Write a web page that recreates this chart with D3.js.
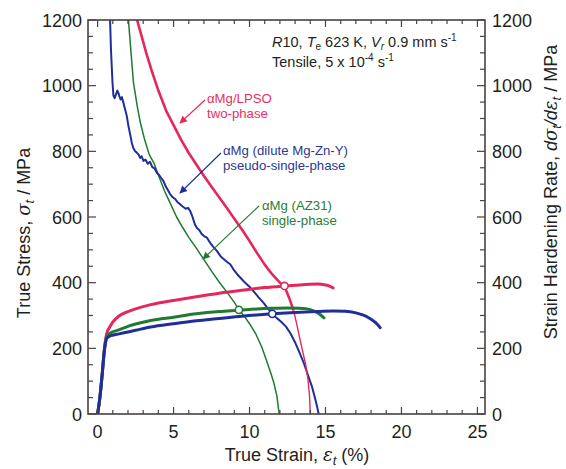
<!DOCTYPE html>
<html>
<head>
<meta charset="utf-8">
<script src="https://cdn.jsdelivr.net/npm/d3@7"></script>
<style>
  html, body { margin: 0; padding: 0; background: #fff; }
  svg { display: block; font-family: Arial, "Liberation Sans", Helvetica, sans-serif; }
</style>
</head>
<body>
<svg id="chart" width="566" height="469"></svg>
<script>
// ---------------- DATA ----------------
const xTicks = [0, 5, 10, 15, 20, 25];
const yTicks = [0, 200, 400, 600, 800, 1000, 1200];

// True stress-strain curves [strain %, stress MPa]
const flowLPSO = [[0,0],[0.15,50],[0.3,120],[0.45,200],[0.6,245],[0.8,265],[1.0,280],[1.4,298],[2.0,312],[2.5,320],[3.5,333],[5.0,346],[6.5,357],[8,368],[9.5,377],[11,385],[12.3,390],[13.5,394],[14.5,396],[15.0,393],[15.3,389],[15.5,384]];
const flowDilute = [[0,0],[0.15,50],[0.3,120],[0.45,195],[0.6,230],[0.8,237],[1.0,240],[1.4,244],[2.0,250],[2.5,255],[3.5,265],[5.0,275],[6.5,284],[8,291],[9.5,298],[11.5,305],[13,309],[14.5,312],[15.5,314],[16.3,313],[17,308],[17.5,301],[17.95,290],[18.3,278],[18.6,263]];
const flowAZ31 = [[0,0],[0.15,50],[0.3,120],[0.45,195],[0.6,235],[0.8,245],[1.0,250],[1.4,256],[2.0,267],[2.5,274],[3.5,285],[5.0,295],[6.5,305],[8,312],[9.3,316],[10.5,320],[11.5,322],[12.5,323],[13.3,322],[14.0,318],[14.5,308],[14.9,293]];

// Strain hardening rate curves [strain %, dσ/dε MPa]
const hardLPSO = [[2.6,1200],[2.9,1150],[3.2,1100],[3.6,1040],[4.0,985],[4.5,925],[5.0,880],[5.5,835],[6.0,795],[6.5,760],[7.0,725],[7.5,692],[8.0,660],[8.5,628],[9.0,595],[9.5,562],[10.0,527],[10.5,490],[11.0,455],[11.5,425],[12.0,400],[12.3,388],[12.6,355],[12.9,315],[13.1,275],[13.3,232],[13.5,190],[13.7,150],[13.85,105],[13.95,55],[14.0,0]];
const hardDilute = [[0.82,1200],[0.88,1110],[0.93,1060],[0.98,1010],[1.04,970],[1.12,962],[1.22,975],[1.3,985],[1.37,978],[1.45,965],[1.52,958],[1.6,965],[1.7,948],[1.8,930],[1.92,908],[2.03,877],[2.15,850],[2.25,826],[2.35,810],[2.47,800],[2.58,796],[2.7,790],[2.8,780],[2.9,785],[3.02,771],[3.15,775],[3.3,762],[3.45,768],[3.6,752],[3.75,748],[3.9,735],[4.05,728],[4.2,718],[4.33,710],[4.5,692],[4.65,680],[4.78,669],[4.95,660],[5.1,655],[5.25,646],[5.43,639],[5.6,632],[5.8,625],[5.95,628],[6.1,618],[6.25,600],[6.4,578],[6.53,567],[6.7,560],[6.85,548],[7.0,542],[7.2,537],[7.4,522],[7.6,510],[7.85,497],[8.1,480],[8.35,470],[8.55,462],[8.73,456],[8.95,440],[9.2,425],[9.4,415],[9.6,405],[9.8,396],[10.05,385],[10.3,372],[10.6,355],[10.9,340],[11.2,322],[11.5,305],[11.8,292],[12.1,280],[12.4,266],[12.7,245],[13.0,218],[13.3,186],[13.6,152],[13.85,118],[14.1,85],[14.3,50],[14.45,22],[14.55,0]];
const hardAZ31 = [[2.03,1200],[2.2,1100],[2.36,1010],[2.6,940],[2.8,890],[3.1,835],[3.4,790],[3.7,765],[4.0,728],[4.4,680],[4.8,640],[5.2,600],[5.6,568],[6.0,538],[6.5,505],[7.0,470],[7.5,435],[8.0,402],[8.5,372],[9.0,340],[9.3,318],[9.7,295],[10.0,275],[10.4,245],[10.8,205],[11.1,165],[11.4,125],[11.6,95],[11.8,55],[11.95,0]];

// Considère points (intersection) [strain, stress]
const considere = [[12.3,390,"LPSO"],[9.3,317,"AZ31"],[11.5,305,"Dilute"]];

// ---------------- LAYOUT ----------------
const svg = d3.select("#chart");
const L = 88, R = 485, T = 20, B = 414;
const x = d3.scaleLinear().domain([-0.632, 25.5]).range([L, R]);
const y = d3.scaleLinear().domain([0, 1200]).range([B, T]);
const yR = d3.scaleLinear().domain([0, 1200]).range([B, T]);

const cRed = "#e5285c", cBlue = "#1f2e9a", cGreen = "#1f7a32";
const tRed = "#e8305e", tBlue = "#2a3894", tGreen = "#2b7d34";
const axisCol = "#4a4240";
const textCol = "#231f20";

const clip = svg.append("defs").append("clipPath").attr("id", "clip")
  .append("rect").attr("x", L).attr("y", T).attr("width", R - L).attr("height", B - T);

// arrow marker
const defs = svg.select("defs");
[["aRed", cRed], ["aBlue", cBlue], ["aGreen", cGreen]].forEach(([id, c]) => {
  defs.append("marker").attr("id", id).attr("viewBox", "0 0 10 10")
    .attr("refX", 9).attr("refY", 5).attr("markerWidth", 9).attr("markerHeight", 7.5)
    .attr("markerUnits", "userSpaceOnUse").attr("orient", "auto")
    .append("path").attr("d", "M0,0 L10,5 L0,10 Z").attr("fill", c);
});

// ---------------- CURVES ----------------
const line = d3.line().x(d => x(d[0])).y(d => y(d[1]));
const g = svg.append("g").attr("clip-path", "url(#clip)");

g.append("path").datum(hardAZ31).attr("d", line).attr("fill", "none")
  .attr("stroke", cGreen).attr("stroke-width", 1.5).attr("stroke-linejoin", "round");
g.append("path").datum(hardDilute).attr("d", line).attr("fill", "none")
  .attr("stroke", cBlue).attr("stroke-width", 2).attr("stroke-linejoin", "round");
g.append("path").datum(hardLPSO.filter(d => d[0] <= 12.9)).attr("d", line).attr("fill", "none")
  .attr("stroke", cRed).attr("stroke-width", 2.6).attr("stroke-linejoin", "round");
g.append("path").datum(hardLPSO.filter(d => d[0] >= 12.9)).attr("d", line).attr("fill", "none")
  .attr("stroke", cRed).attr("stroke-width", 1.4).attr("stroke-linejoin", "round");

const smooth = d3.line().x(d => x(d[0])).y(d => y(d[1])).curve(d3.curveMonotoneX);
g.append("path").datum(flowLPSO).attr("d", smooth).attr("fill", "none")
  .attr("stroke", cRed).attr("stroke-width", 3).attr("stroke-linecap", "round");
g.append("path").datum(flowAZ31).attr("d", smooth).attr("fill", "none")
  .attr("stroke", cGreen).attr("stroke-width", 3).attr("stroke-linecap", "round");
g.append("path").datum(flowDilute).attr("d", smooth).attr("fill", "none")
  .attr("stroke", cBlue).attr("stroke-width", 3).attr("stroke-linecap", "round");

const cc = {LPSO: cRed, AZ31: cGreen, Dilute: cBlue};
svg.selectAll("circle.pt").data(considere).enter().append("circle")
  .attr("cx", d => x(d[0])).attr("cy", d => y(d[1])).attr("r", 3.6)
  .attr("fill", "#fff").attr("stroke", d => cc[d[2]]).attr("stroke-width", 1.6);

// ---------------- AXES ----------------
const minorX = d3.range(0, 26, 1).filter(v => v % 5 !== 0);
const minorY = d3.range(0, 1201, 50).filter(v => v % 200 !== 0);

function ticksX(ypos, dir) {
  const ax = svg.append("g").attr("stroke", axisCol).attr("stroke-width", 1.2);
  xTicks.forEach(v => ax.append("line").attr("x1", x(v)).attr("x2", x(v)).attr("y1", ypos).attr("y2", ypos + dir * 7));
  minorX.forEach(v => ax.append("line").attr("x1", x(v)).attr("x2", x(v)).attr("y1", ypos).attr("y2", ypos + dir * 4));
}
function ticksY(xpos, dir) {
  const ax = svg.append("g").attr("stroke", axisCol).attr("stroke-width", 1.2);
  yTicks.forEach(v => ax.append("line").attr("y1", y(v)).attr("y2", y(v)).attr("x1", xpos).attr("x2", xpos + dir * 8));
  minorY.forEach(v => ax.append("line").attr("y1", y(v)).attr("y2", y(v)).attr("x1", xpos).attr("x2", xpos + dir * 5));
}
ticksX(B, -1); ticksX(T, 1);
ticksY(L, 1); ticksY(R, -1);

svg.append("rect").attr("x", L).attr("y", T).attr("width", R - L).attr("height", B - T)
  .attr("fill", "none").attr("stroke", axisCol).attr("stroke-width", 1.6);

// tick labels
svg.append("g").selectAll("text").data(xTicks).enter().append("text")
  .attr("x", d => x(d)).attr("y", 438).attr("text-anchor", "middle")
  .attr("font-size", 18).attr("fill", textCol).text(d => d);
svg.append("g").selectAll("text").data(yTicks).enter().append("text")
  .attr("x", 82).attr("y", d => y(d) + 6.5).attr("text-anchor", "end")
  .attr("font-size", 18).attr("fill", textCol).text(d => d);
svg.append("g").selectAll("text").data(yTicks).enter().append("text")
  .attr("x", 492).attr("y", d => yR(d) + 6.5).attr("text-anchor", "start")
  .attr("font-size", 18).attr("fill", textCol).text(d => d);

// axis titles
const xt = svg.append("text").attr("x", 297).attr("y", 461).attr("text-anchor", "middle")
  .attr("font-size", 18).attr("fill", textCol);
xt.append("tspan").text("True Strain, ");
xt.append("tspan").attr("font-style", "italic").attr("font-family", "'DejaVu Serif', 'Liberation Serif', serif").text("ε");
xt.append("tspan").attr("font-style", "italic").attr("font-size", 13).attr("dy", 4).text("t");
xt.append("tspan").attr("dy", -4).text(" (%)");

const ylt = svg.append("text").attr("transform", "translate(30,233) rotate(-90)")
  .attr("text-anchor", "middle").attr("font-size", 18).attr("fill", textCol);
ylt.append("tspan").text("True Stress, ");
ylt.append("tspan").attr("font-style", "italic").attr("font-family", "'DejaVu Serif', 'Liberation Serif', serif").text("σ");
ylt.append("tspan").attr("font-style", "italic").attr("font-size", 13).attr("dy", 4).text("t");
ylt.append("tspan").attr("dy", -4).text(" / MPa");

const yrt = svg.append("text").attr("transform", "translate(557,192) rotate(-90)")
  .attr("text-anchor", "middle").attr("font-size", 18).attr("fill", textCol);
yrt.append("tspan").text("Strain Hardening Rate, ");
yrt.append("tspan").attr("font-style", "italic").text("d");
yrt.append("tspan").attr("font-style", "italic").attr("font-family", "'DejaVu Serif', 'Liberation Serif', serif").text("σ");
yrt.append("tspan").attr("font-style", "italic").attr("font-size", 13).attr("dy", 4).text("t");
yrt.append("tspan").attr("font-style", "italic").attr("dy", -4).text("/d");
yrt.append("tspan").attr("font-style", "italic").attr("font-family", "'DejaVu Serif', 'Liberation Serif', serif").text("ε");
yrt.append("tspan").attr("font-style", "italic").attr("font-size", 13).attr("dy", 4).text("t");
yrt.append("tspan").attr("dy", -4).text(" / MPa");

// condition annotation
const a1 = svg.append("text").attr("x", 272).attr("y", 47).attr("font-size", 14.5).attr("fill", textCol);
a1.append("tspan").attr("font-style", "italic").text("R");
a1.append("tspan").text("10, ");
a1.append("tspan").attr("font-style", "italic").text("T");
a1.append("tspan").attr("font-size", 10).attr("dy", 3).text("e");
a1.append("tspan").attr("dy", -3).text(" 623 K, ");
a1.append("tspan").attr("font-style", "italic").text("V");
a1.append("tspan").attr("font-size", 10).attr("font-style", "italic").attr("dy", 3).text("r");
a1.append("tspan").attr("dy", -3).text(" 0.9 mm s");
a1.append("tspan").attr("font-size", 10).attr("dy", -6).text("-1");
const a2 = svg.append("text").attr("x", 272).attr("y", 67).attr("font-size", 14.5).attr("fill", textCol);
a2.append("tspan").text("Tensile, 5 x 10");
a2.append("tspan").attr("font-size", 10).attr("dy", -6).text("-4");
a2.append("tspan").attr("dy", 6).text(" s");
a2.append("tspan").attr("font-size", 10).attr("dy", -6).text("-1");

// series labels
function label(x0, y0, lines, col) {
  const t = svg.append("text").attr("font-size", 13.2).attr("fill", col);
  lines.forEach((s, i) => t.append("tspan").attr("x", x0).attr("y", y0 + i * 15).text(s));
}
label(207, 103, ["αMg/LPSO", "two-phase"], tRed);
label(223, 155, ["αMg (dilute Mg-Zn-Y)", "pseudo-single-phase"], tBlue);
label(262, 210, ["αMg (AZ31)", "single-phase"], tGreen);

// arrows
svg.append("line").attr("x1", 205).attr("y1", 100).attr("x2", 180).attr("y2", 123)
  .attr("stroke", cRed).attr("stroke-width", 1.1).attr("marker-end", "url(#aRed)");
svg.append("line").attr("x1", 221).attr("y1", 153).attr("x2", 180).attr("y2", 193)
  .attr("stroke", cBlue).attr("stroke-width", 1.1).attr("marker-end", "url(#aBlue)");
svg.append("line").attr("x1", 259).attr("y1", 206).attr("x2", 203).attr("y2", 259)
  .attr("stroke", cGreen).attr("stroke-width", 1.1).attr("marker-end", "url(#aGreen)");
</script>
</body>
</html>
